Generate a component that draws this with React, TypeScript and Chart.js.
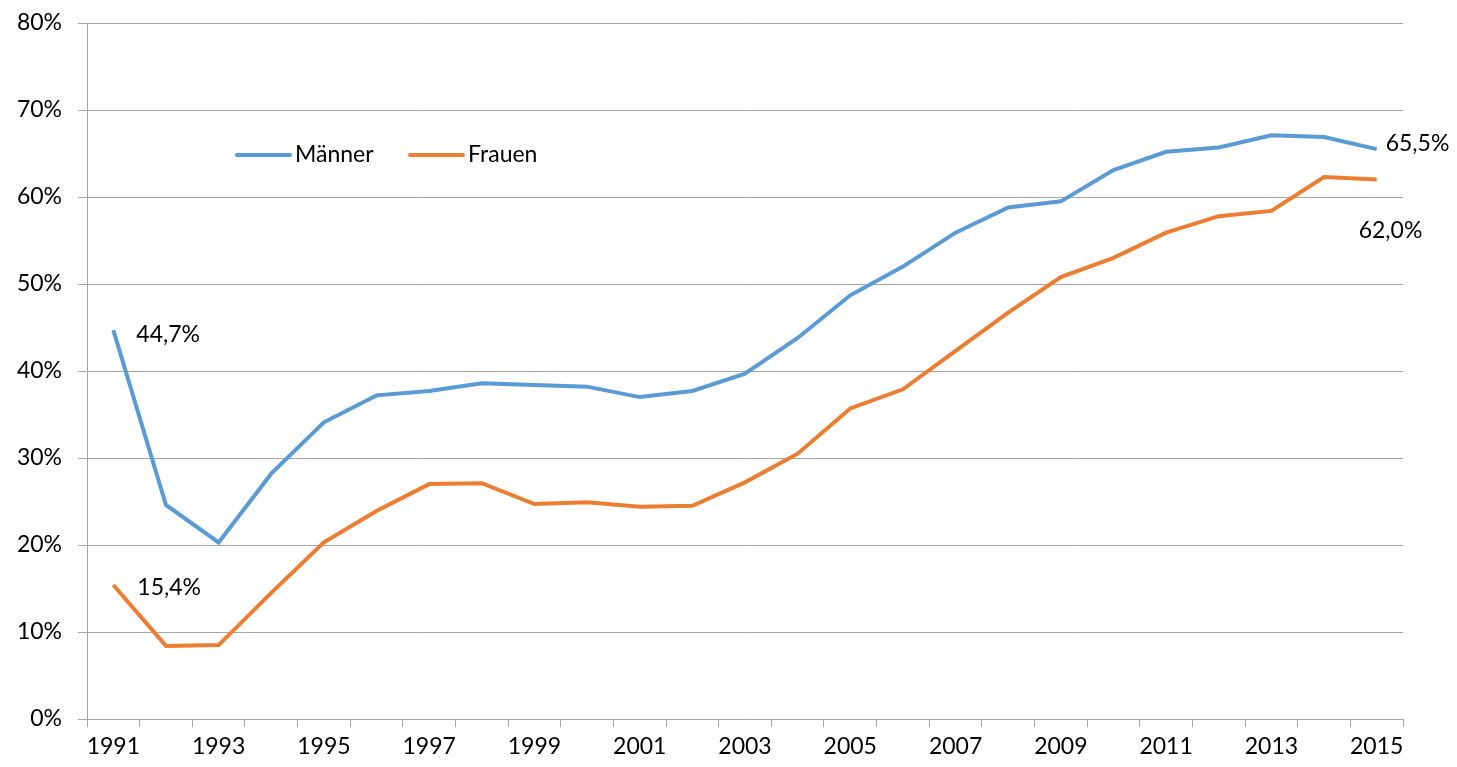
import React, { useEffect, useRef } from "react";
import { Chart, registerables } from "chart.js";

Chart.register(...registerables);

const years = [
  "1991", "1992", "1993", "1994", "1995", "1996", "1997", "1998", "1999", "2000",
  "2001", "2002", "2003", "2004", "2005", "2006", "2007", "2008", "2009", "2010",
  "2011", "2012", "2013", "2014", "2015",
];
const maenner = [
  44.7, 24.6, 20.3, 28.2, 34.1, 37.2, 37.7, 38.6, 38.4, 38.2,
  37.0, 37.7, 39.7, 43.8, 48.7, 52.0, 55.9, 58.8, 59.5, 63.1,
  65.2, 65.7, 67.1, 66.9, 65.5,
];
const frauen = [
  15.4, 8.4, 8.5, 14.5, 20.3, 23.9, 27.0, 27.1, 24.7, 24.9,
  24.4, 24.5, 27.2, 30.5, 35.7, 37.9, 42.3, 46.7, 50.8, 53.0,
  55.9, 57.8, 58.4, 62.3, 62.0,
];
const seriesNames = ["Männer", "Frauen"];
const seriesColors = ["#5B9BD5", "#ED7D31"];
const annotatedPoints = [
  { series: 0, index: 0, text: "44,7%", dx: 23, dy: 4 },
  { series: 1, index: 0, text: "15,4%", dx: 24, dy: 3 },
  { series: 0, index: 24, text: "65,5%", dx: 9, dy: -6 },
  { series: 1, index: 24, text: "62,0%", dx: -18, dy: 51 },
];

const FONT = "Lato, 'Open Sans', sans-serif";
const FONT_SIZE = 23;

const labelPlugin = {
  id: "pointLabels",
  afterDatasetsDraw(chart: any) {
    const ctx = chart.ctx;
    ctx.save();
    ctx.font = `${FONT_SIZE}px ${FONT}`;
    ctx.fillStyle = "#000";
    ctx.textAlign = "left";
    ctx.textBaseline = "middle";
    annotatedPoints.forEach((a) => {
      const pt = chart.getDatasetMeta(a.series).data[a.index];
      ctx.fillText(a.text, pt.x + a.dx, pt.y + a.dy);
    });
    ctx.restore();
  },
};

const legendPlugin = {
  id: "innerLegend",
  afterDraw(chart: any) {
    const ctx = chart.ctx;
    ctx.save();
    ctx.font = `${FONT_SIZE}px ${FONT}`;
    ctx.textBaseline = "middle";
    ctx.textAlign = "left";
    const y = 155;
    let x = 237;
    chart.data.datasets.forEach((ds: any) => {
      ctx.strokeStyle = ds.borderColor;
      ctx.lineWidth = 4;
      ctx.lineCap = "round";
      ctx.beginPath();
      ctx.moveTo(x, y);
      ctx.lineTo(x + 53, y);
      ctx.stroke();
      ctx.fillStyle = "#000";
      ctx.fillText(ds.label, x + 58, y);
      x += 173;
    });
    ctx.restore();
  },
};

export default function App() {
  const ref = useRef<HTMLCanvasElement | null>(null);
  useEffect(() => {
    document.body.style.margin = "0";
    const canvas = ref.current!;
    const chart = new Chart(canvas, {
      type: "line",
      data: {
        labels: years,
        datasets: [
          {
            label: seriesNames[0],
            data: maenner,
            borderColor: seriesColors[0],
            backgroundColor: seriesColors[0],
            borderWidth: 4,
            pointRadius: 0,
            tension: 0,
          },
          {
            label: seriesNames[1],
            data: frauen,
            borderColor: seriesColors[1],
            backgroundColor: seriesColors[1],
            borderWidth: 4,
            pointRadius: 0,
            tension: 0,
          },
        ],
      },
      options: {
        animation: false,
        responsive: false,
        maintainAspectRatio: false,
        layout: { padding: { top: 23, right: 54, bottom: 0, left: 0 } },
        plugins: {
          legend: { display: false },
          tooltip: { enabled: false },
        },
        scales: {
          x: {
            type: "category",
            offset: true,
            grid: {
              offset: true,
              drawOnChartArea: false,
              drawTicks: true,
              tickLength: 8,
              color: "#A6A6A6",
              lineWidth: 1,
            },
            border: { display: true, color: "#A6A6A6", width: 1 },
            ticks: {
              autoSkip: false,
              maxRotation: 0,
              color: "#000",
              font: { family: FONT, size: FONT_SIZE },
              padding: 6,
              callback: (_v: any, i: number) => (i % 2 === 0 ? years[i] : ""),
            },
            afterFit: (scale: any) => {
              scale.height = 48;
              scale.paddingLeft = 0;
              scale.paddingRight = 0;
            },
          },
          y: {
            min: 0,
            max: 80,
            grid: {
              color: "#A6A6A6",
              lineWidth: 1,
              tickLength: 9,
            },
            border: { display: true, color: "#A6A6A6", width: 1 },
            ticks: {
              stepSize: 10,
              color: "#000",
              font: { family: FONT, size: FONT_SIZE },
              padding: 16,
              callback: (v: any) => `${v}%`,
            },
            afterFit: (scale: any) => {
              scale.width = 87;
              scale.paddingTop = 0;
              scale.paddingBottom = 0;
            },
          },
        },
      },
      plugins: [labelPlugin, legendPlugin],
    });
    return () => chart.destroy();
  }, []);
  return (
    <div style={{ width: 1457, height: 767 }}>
      <canvas ref={ref} width={1457} height={767} style={{ display: "block" }} />
    </div>
  );
}
